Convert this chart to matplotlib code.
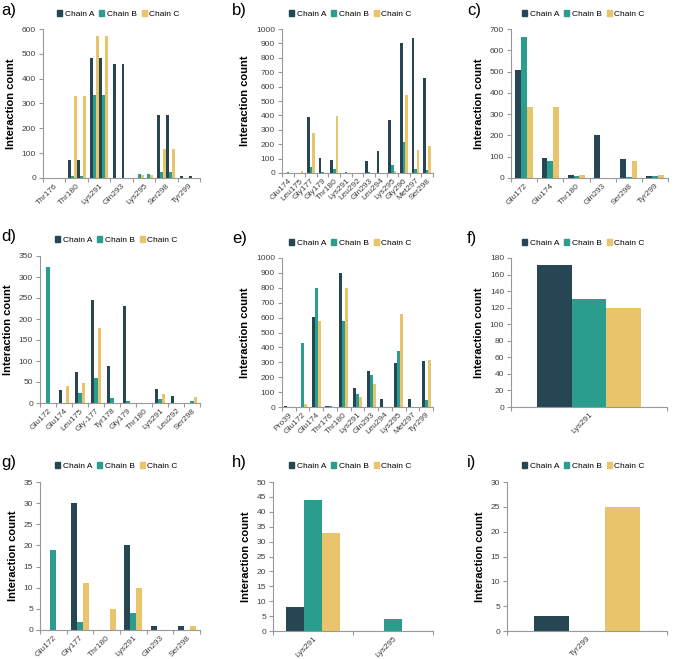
import matplotlib.pyplot as plt
from matplotlib.patches import Patch
import numpy as np

plt.rcParams['font.family'] = ['Liberation Sans', 'DejaVu Sans']

COL_A = '#264653'
COL_B = '#2a9d8f'
COL_C = '#e9c46a'

# a) - the source chart repeats each series twice
a_res = ['Thr176', 'Thr180', 'Lys291', 'Gln293', 'Lys295', 'Ser298', 'Tyr299']
a_A = [0, 72, 485, 460, 0, 255, 10]
a_B = [0, 7, 333, 2, 15, 25, 2]
a_C = [0, 330, 570, 0, 12, 117, 2]

# b)
b_res = ['Glu174', 'Leu175', 'Gly177', 'Gly179', 'Thr180', 'Lys291', 'Leu292',
         'Gln293', 'Leu294', 'Lys295', 'Gly296', 'Met297', 'Ser298']
b_A = [0, 0, 388, 105, 93, 0, 0, 80, 155, 365, 905, 938, 660]
b_B = [5, 0, 42, 8, 25, 5, 0, 8, 0, 55, 218, 25, 20]
b_C = [0, 12, 280, 0, 393, 0, 0, 0, 0, 12, 540, 162, 188]

# c)
c_res = ['Glu172', 'Glu174', 'Thr180', 'Gln293', 'Ser298', 'Tyr299']
c_A = [508, 93, 12, 203, 88, 8]
c_B = [662, 82, 8, 0, 5, 10]
c_C = [333, 333, 12, 0, 82, 12]

# d)
d_res = ['Glu172', 'Glu174', 'Leu175', 'Gly-177', 'Tyr178', 'Gly179',
         'Thr180', 'Lys291', 'Leu292', 'Ser298']
d_A = [0, 30, 73, 246, 89, 230, 1, 33, 16, 0]
d_B = [325, 0, 24, 59, 12, 4, 1, 9, 0, 4]
d_C = [0, 41, 47, 178, 0, 0, 0, 21, 0, 15]

# e)
e_res = ['Pro39', 'Glu172', 'Glu174', 'Thr176', 'Thr180', 'Lys291', 'Gln293',
         'Leu294', 'Lys295', 'Met297', 'Tyr299']
e_A = [5, 2, 606, 5, 897, 125, 242, 52, 292, 52, 310]
e_B = [0, 428, 797, 5, 580, 90, 215, 0, 378, 0, 48]
e_C = [0, 22, 580, 3, 797, 70, 155, 0, 627, 0, 317]

# f)
f_res = ['Lys291']
f_A = [171]
f_B = [131]
f_C = [119]

# g)
g_res = ['Glu172', 'Gly177', 'Thr180', 'Lys291', 'Gln293', 'Ser298']
g_A = [0, 30, 0, 20, 1, 1]
g_B = [19, 2, 0, 4, 0, 0]
g_C = [0, 11, 5, 10, 0, 1]

# h)
h_res = ['Lys291', 'Lys295']
h_A = [8, 0]
h_B = [44, 4]
h_C = [33, 0]

# i)
i_res = ['Tyr299']
i_A = [3]
i_B = [0]
i_C = [25]

W, H = 697, 659
fig = plt.figure(figsize=(W / 100, H / 100), dpi=100)


def make_ax(l, t, r, b):
    return fig.add_axes([l / W, 1 - b / H, (r - l) / W, (b - t) / H])


def panel(ax, res, A, B, C, ymax, ystep, letter, lx, ly, leg_x, repeat=1):
    series = [(A, COL_A), (B, COL_B), (C, COL_C)] * repeat
    nser = len(series)
    bw = 1.0 / (nser + 1.5)
    x = np.arange(len(res))
    for k, (vals, col) in enumerate(series):
        off = (k - (nser - 1) / 2) * bw
        ax.bar(x + off, vals, width=bw, color=col, linewidth=0)
    ax.set_xlim(-0.5, len(res) - 0.5)
    ax.set_ylim(0, ymax)
    ax.set_yticks(np.arange(0, ymax + ystep / 2, ystep))
    ax.set_xticks(np.arange(len(res) + 1) - 0.5)
    ax.set_xticklabels([])
    ax.set_xticks(x, minor=True)
    ax.set_xticklabels(res, minor=True, rotation=45, ha='right',
                       rotation_mode='anchor', fontsize=6, color='#404040')
    ax.tick_params(axis='x', which='minor', length=0, pad=3)
    ax.tick_params(axis='x', which='major', length=3, color='#999999')
    ax.tick_params(axis='y', length=3, labelsize=6, color='#999999',
                   labelcolor='#404040', pad=2)
    for s in ['top', 'right']:
        ax.spines[s].set_visible(False)
    for s in ['left', 'bottom']:
        ax.spines[s].set_color('#999999')
        ax.spines[s].set_linewidth(0.8)
    ax.set_ylabel('Interaction count', fontsize=8, fontweight='bold', labelpad=4)
    handles = [Patch(color=COL_A, label='Chain A'),
               Patch(color=COL_B, label='Chain B'),
               Patch(color=COL_C, label='Chain C')]
    fig.legend(handles=handles, loc='center left', ncol=3,
               bbox_to_anchor=(leg_x / W, 1 - ly / H), frameon=False,
               fontsize=6, handlelength=0.6, handleheight=0.6,
               handletextpad=0.3, columnspacing=0.6, borderpad=0)
    fig.text(lx / W, 1 - (ly - 4) / H, letter, fontsize=12, va='center', ha='left')


ax = make_ax(43, 29, 200, 178)
panel(ax, a_res, a_A, a_B, a_C, 600, 100, 'a)', 1, 14, 53, repeat=2)

ax = make_ax(282, 29, 433, 173)
panel(ax, b_res, b_A, b_B, b_C, 1000, 100, 'b)', 232, 14, 285)

ax = make_ax(511, 29, 668, 178)
panel(ax, c_res, c_A, c_B, c_C, 700, 100, 'c)', 467, 14, 518)

ax = make_ax(40, 256, 200, 403)
panel(ax, d_res, d_A, d_B, d_C, 350, 50, 'd)', 1, 240, 51)

ax = make_ax(282, 258, 433, 407)
panel(ax, e_res, e_A, e_B, e_C, 1000, 100, 'e)', 232, 243, 285)

ax = make_ax(511, 258, 667, 407)
panel(ax, f_res, f_A, f_B, f_C, 180, 20, 'f)', 467, 243, 518)

ax = make_ax(40, 482, 200, 630)
panel(ax, g_res, g_A, g_B, g_C, 35, 5, 'g)', 1, 466, 51)

ax = make_ax(273, 482, 433, 631)
panel(ax, h_res, h_A, h_B, h_C, 50, 5, 'h)', 232, 466, 285)

ax = make_ax(507, 482, 667, 631)
panel(ax, i_res, i_A, i_B, i_C, 30, 5, 'i)', 467, 466, 518)

fig.savefig('out.png', dpi=100)
